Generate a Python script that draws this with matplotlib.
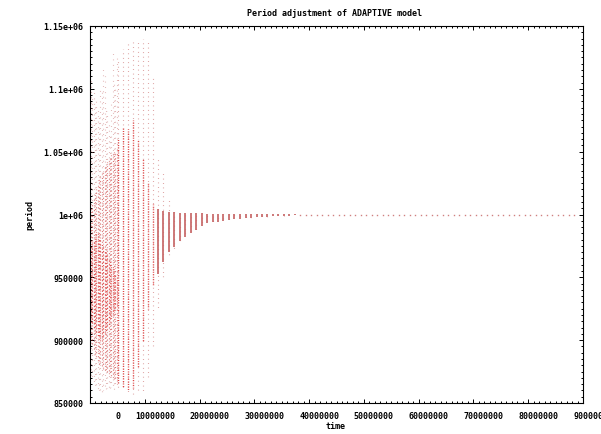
import matplotlib
matplotlib.use("Agg")
import matplotlib.pyplot as plt
from matplotlib.ticker import FixedLocator, NullFormatter

# ---------------- data ----------------
# early scattered cloud (time, sparse / dense / core period extents)
cloud_time = [150000, 400000, 650000, 900000, 1150000, 1400000, 1650000, 1900000,
              2150000, 2400000, 2650000, 2900000, 3150000, 3400000, 3650000, 3900000,
              4150000, 4400000, 4650000, 4900000]
cloud_sparse_lo = [872000, 868000, 866000, 864000, 862000, 860000, 860000, 858000,
                   858000, 860000, 861000, 860000, 862000, 860000, 861000, 863000,
                   862000, 860000, 862000, 863000]
cloud_sparse_hi = [1108000, 1095000, 1100000, 1088000, 1092000, 1085000, 1080000, 1102000,
                   1098000, 1118000, 1110000, 1085000, 1082000, 1072000, 1065000, 1090000,
                   1130000, 1105000, 1100000, 1125000]
cloud_dense_lo = [900000, 895000, 892000, 888000, 885000, 883000, 880000, 880000,
                  878000, 877000, 876000, 875000, 874000, 873000, 872000, 871000,
                  870000, 869000, 868000, 867000]
cloud_dense_hi = [1005000, 1010000, 1012000, 1018000, 1020000, 1025000, 1028000, 1030000,
                  1032000, 1035000, 1038000, 1040000, 1042000, 1045000, 1046000, 1048000,
                  1050000, 1050000, 1048000, 1052000]
cloud_core_lo = [915000, 912000, 910000, 908000, 905000, 903000, 902000, 900000,
                 900000, 902000, 905000, 908000, 910000, 912000, 915000, 918000,
                 920000, 922000, 925000, 928000]
cloud_core_hi = [975000, 978000, 980000, 982000, 985000, 985000, 982000, 980000,
                 978000, 975000, 972000, 970000, 968000, 965000, 963000, 960000,
                 958000, 955000, 952000, 950000]

# columns of points (one per adjustment round)
col_time = [5200000, 6100000, 7000000, 7900000, 8800000, 9700000,
            10600000, 11500000, 12500000, 13400000, 14500000, 15400000, 16400000,
            17300000, 18400000, 19400000, 20400000, 21300000, 22400000, 23300000,
            24300000, 25400000, 26300000, 27400000, 28400000, 29400000, 30400000,
            31400000, 32400000, 33400000, 34400000, 35400000, 36400000, 37400000]
sparse_lo = [863000, 860000, 858000, 857000, 858000, 859000,
             871000, 893000, 925000, 950000, 965000, 972000, 979000,
             982000, 985000, 988000, 991000, 993000, 994000, 994400,
             994800, 995600, 996400, 996800, 997200, 997500, 997800,
             998100, 998400, 998600, 998800, 999000, 999200, 999300]
sparse_hi = [1122000, 1132000, 1137000, 1140000, 1140000, 1140000,
             1140000, 1110000, 1044000, 1035000, 1014000, 1003000, 1002000,
             1001500, 1001000, 1001000, 1000800, 1000800, 1000600, 1000600,
             1000500, 1000500, 1000400, 1000400, 1000400, 1000300, 1000300,
             1000300, 1000200, 1000200, 1000200, 1000200, 1000100, 1000100]
dense_lo = [866000, 862000, 860000, 862000, 878000, 899000,
            925000, 943000, 953000, 962000, 970000, 974000, 979000,
            982000, 985000, 988000, 991000, 993000, 994000, 994400,
            994800, 995600, 996400, 996800, 997200, 997500, 997800,
            998100, 998400, 998600, 998800, 999000, 999200, 999300]
dense_hi = [1060000, 1070000, 1068000, 1075000, 1060000, 1045000,
            1025000, 1008000, 1004000, 1003000, 1002000, 1002000, 1001500,
            1001000, 1001000, 1000800, 1000800, 1000600, 1000600, 1000500,
            1000500, 1000400, 1000400, 1000400, 1000300, 1000300, 1000300,
            1000200, 1000200, 1000200, 1000200, 1000100, 1000100, 1000100]

# converged points (single dots at the settled period)
steady_time = [38400000, 39400000, 40400000, 41400000, 42400000, 43400000, 44400000,
               45400000, 46400000, 47400000, 48400000, 49400000, 50400000, 51400000,
               52400000, 53400000, 54400000, 55400000, 56400000, 57400000, 58400000,
               59400000, 60400000, 61400000, 62400000, 63400000, 64400000, 65400000,
               66400000, 67400000, 68400000, 69400000, 70400000, 71400000, 72400000,
               73400000, 74400000, 75400000, 76400000, 77400000, 78400000, 79400000,
               80400000, 81400000, 82400000, 83400000, 84400000, 85400000, 86400000,
               87400000, 88400000]
steady_period = [1000000] * len(steady_time)

xtick_vals = [0, 10000000, 20000000, 30000000, 40000000, 50000000, 60000000,
              70000000, 80000000, 90000000]
xtick_labels = ["0", "10000000", "20000000", "30000000", "40000000", "50000000",
                "60000000", "70000000", "80000000", "90000000"]
ytick_vals = [850000, 900000, 950000, 1000000, 1050000, 1100000, 1150000]
ytick_labels = ["850000", "900000", "950000", "1e+06", "1.05e+06", "1.1e+06", "1.15e+06"]

title = "Period adjustment of ADAPTIVE model"
xlabel = "time"
ylabel = "period"

# ---------------- figure ----------------
W, H = 601, 435
fig = plt.figure(figsize=(W / 100, H / 100), dpi=100)
L, R, T, B = 90, 583, 27, 404
ax = fig.add_axes([L / W, (H - B) / H, (R - L) / W, (B - T) / H])

font = dict(family="DejaVu Sans Mono", weight="bold", size=6)

# early cloud
for i, t in enumerate(cloud_time):
    ax.vlines(t, cloud_sparse_lo[i], cloud_sparse_hi[i], colors="#b84848",
              linewidth=0.8, alpha=0.55,
              linestyles=[((i * 1.7) % 5, (0.6, 4.2))])
    ax.vlines(t, cloud_dense_lo[i], cloud_dense_hi[i], colors="#d03030",
              linewidth=0.85, alpha=0.72,
              linestyles=[((i * 0.9) % 3, (0.6, 2.4))])
    ax.vlines(t, cloud_core_lo[i], cloud_core_hi[i], colors="#e02020",
              linewidth=0.9, alpha=0.78,
              linestyles=[((i * 1.1) % 3, (0.6, 2.2))])

# rounds
for i, t in enumerate(col_time):
    early = t < 12000000
    ax.vlines(t, sparse_lo[i], sparse_hi[i], colors="#b83838",
              linewidth=0.8, alpha=0.65,
              linestyles=[((i * 1.3) % 4, (0.6, 3.4))])
    if early:
        ax.vlines(t, dense_lo[i], dense_hi[i], colors="#dc2020",
                  linewidth=1.0, alpha=0.85,
                  linestyles=[((i * 0.7) % 2, (0.7, 1.1))])
    else:
        ax.vlines(t, dense_lo[i], dense_hi[i], colors="#c86a6a",
                  linewidth=1.4, alpha=0.9)

ax.plot(steady_time, steady_period, linestyle="none", marker="s",
        markersize=1.0, markeredgewidth=0, color="#d08080")

ax.set_xlim(0, 90000000)
ax.set_ylim(850000, 1150000)

ax.xaxis.set_major_locator(FixedLocator(xtick_vals))
ax.xaxis.set_minor_locator(FixedLocator([v * 1000000 for v in range(0, 91)]))
ax.yaxis.set_major_locator(FixedLocator(ytick_vals))
ax.yaxis.set_minor_locator(FixedLocator([850000 + 5000 * k for k in range(61)]))
ax.xaxis.set_major_formatter(NullFormatter())
ax.set_yticklabels(ytick_labels, **font)

ax.tick_params(which="both", direction="in", top=True, right=True, color="black",
               width=0.7)
ax.tick_params(which="major", length=3.2)
ax.tick_params(which="minor", length=1.6)
ax.tick_params(axis="y", which="major", pad=5)
for s in ax.spines.values():
    s.set_linewidth(0.8)

# x tick labels (gnuplot-style placement)
for v, lab in zip(xtick_vals, xtick_labels):
    ax.annotate(lab, xy=(v, 0), xycoords=("data", "axes fraction"),
                xytext=(30, -8), textcoords="offset pixels",
                ha="right", va="top", annotation_clip=False, **font)

fig.text(335 / W, 1 - 13 / H, title, ha="center", va="center", **font)
fig.text(336 / W, 1 - 427 / H, xlabel, ha="center", va="center", **font)
fig.text(30 / W, 1 - 215 / H, ylabel, ha="center", va="center", rotation=90, **font)

fig.savefig("out.png", dpi=100)
